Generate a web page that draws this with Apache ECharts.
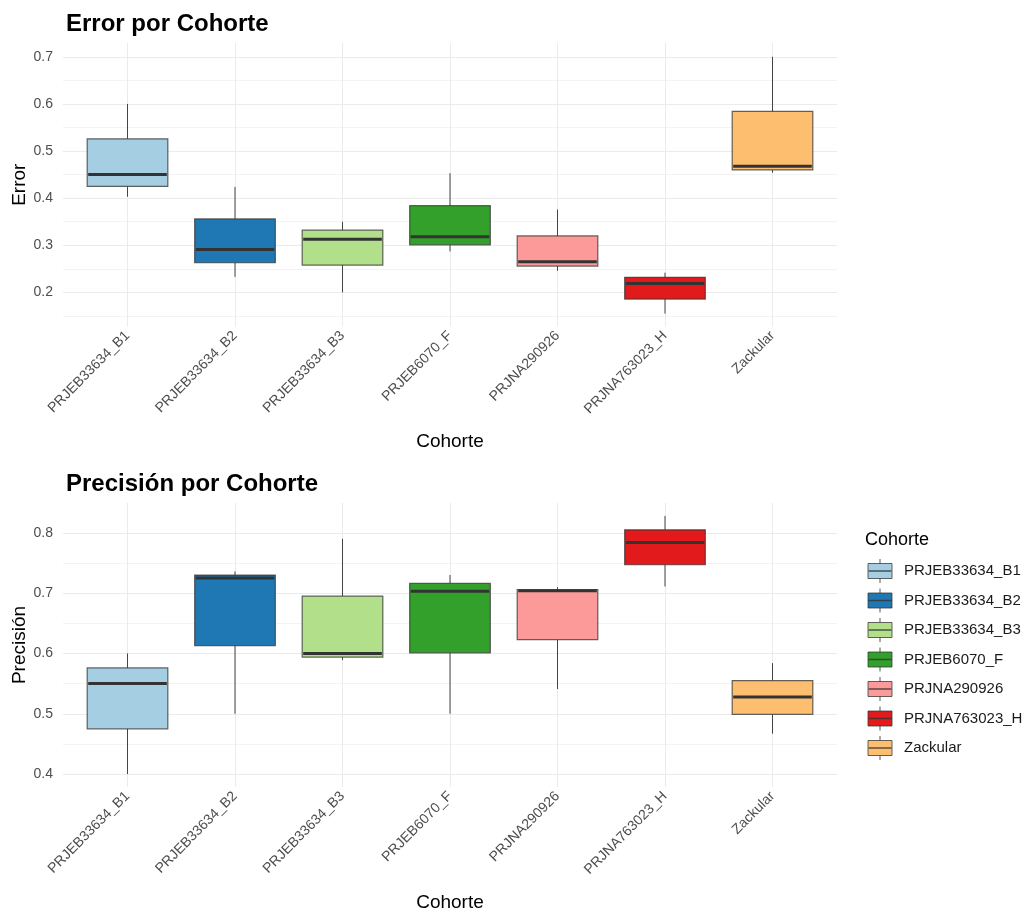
<!DOCTYPE html>
<html>
<head>
<meta charset="utf-8">
<title>Error y Precisión por Cohorte</title>
<script src="https://cdn.jsdelivr.net/npm/echarts@6/dist/echarts.min.js"></script>
<style>
  html, body { margin: 0; padding: 0; background: #ffffff; }
  #chart { width: 1027px; height: 914px; }
</style>
</head>
<body>
<div id="chart"></div>
<script>
// Cohorts shown on the x axis and in the legend
const categories = ['PRJEB33634_B1', 'PRJEB33634_B2', 'PRJEB33634_B3', 'PRJEB6070_F', 'PRJNA290926', 'PRJNA763023_H', 'Zackular'];
const cohortColors = ['#A6CEE3', '#1F78B4', '#B2DF8A', '#33A02C', '#FB9A99', '#E31A1C', '#FDBF6F'];

// Box statistics per cohort: [lower whisker, Q1, median, Q3, upper whisker]
const errorBoxes = [
  [0.403, 0.425, 0.450, 0.526, 0.600],
  [0.233, 0.263, 0.291, 0.356, 0.424],
  [0.200, 0.258, 0.313, 0.332, 0.350],
  [0.287, 0.301, 0.318, 0.384, 0.453],
  [0.246, 0.256, 0.265, 0.320, 0.376],
  [0.155, 0.186, 0.219, 0.232, 0.242],
  [0.454, 0.460, 0.468, 0.584, 0.700]
];
const precisionBoxes = [
  [0.400, 0.475, 0.550, 0.576, 0.600],
  [0.500, 0.613, 0.725, 0.730, 0.736],
  [0.589, 0.594, 0.600, 0.695, 0.790],
  [0.500, 0.601, 0.703, 0.716, 0.730],
  [0.541, 0.623, 0.704, 0.706, 0.710],
  [0.711, 0.747, 0.784, 0.805, 0.828],
  [0.467, 0.499, 0.528, 0.555, 0.584]
];

// Tick positions
const xTickValues = [1, 2, 3, 4, 5, 6, 7];
const errorLabelTicks = [0.2, 0.3, 0.4, 0.5, 0.6, 0.7];
const errorGridTicks = [0.15, 0.2, 0.25, 0.3, 0.35, 0.4, 0.45, 0.5, 0.55, 0.6, 0.65, 0.7];
const precisionLabelTicks = [0.4, 0.5, 0.6, 0.7, 0.8];
const precisionGridTicks = [0.4, 0.45, 0.5, 0.55, 0.6, 0.65, 0.7, 0.75, 0.8];

const FONT = '"Liberation Sans", Arial, sans-serif';
const MAJOR = '#ebebeb';
const MINOR = '#f3f3f3';

function boxRows(boxes) {
  return boxes.map((b, i) => [xTickValues[i]].concat(b));
}

// ggplot-style box: whiskers without caps, filled box, thick median bar
function renderBox(params, api) {
  const x = api.value(0);
  const lo = api.coord([x, api.value(1)]);
  const q1 = api.coord([x, api.value(2)]);
  const med = api.coord([x, api.value(3)]);
  const q3 = api.coord([x, api.value(4)]);
  const hi = api.coord([x, api.value(5)]);
  const bw = api.size([1, 0])[0] * 0.75;
  const cx = lo[0];
  const fill = cohortColors[params.dataIndex];
  return {
    type: 'group',
    children: [
      { type: 'line', shape: { x1: cx, y1: hi[1], x2: cx, y2: q3[1] }, style: { stroke: '#444', lineWidth: 1 } },
      { type: 'line', shape: { x1: cx, y1: q1[1], x2: cx, y2: lo[1] }, style: { stroke: '#444', lineWidth: 1 } },
      { type: 'rect', shape: { x: cx - bw / 2, y: q3[1], width: bw, height: q1[1] - q3[1] },
        style: { fill: fill, stroke: 'rgba(51,51,51,0.75)', lineWidth: 1.2 } },
      { type: 'line', shape: { x1: cx - bw / 2 + 1, y1: med[1], x2: cx + bw / 2 - 1, y2: med[1] },
        style: { stroke: '#333333', lineWidth: 3 } }
    ]
  };
}

function xAxisFor(gridIndex) {
  return {
    type: 'value', gridIndex: gridIndex, min: 0.4, max: 7.6,
    name: 'Cohorte', nameLocation: 'middle', nameGap: 106, nameMoveOverlap: false,
    nameTextStyle: { fontFamily: FONT, fontSize: 19, color: '#000' },
    axisLine: { show: false },
    axisTick: { show: false, customValues: xTickValues },
    axisLabel: {
      customValues: xTickValues, rotate: 45, margin: 7,
      fontFamily: FONT, fontSize: 14, color: '#4d4d4d',
      formatter: v => categories[Math.round(v) - 1]
    },
    splitLine: { show: true, lineStyle: { color: MAJOR, width: 1 } }
  };
}

function yAxisFor(gridIndex, name, min, max, labelTicks, gridTicks, colors) {
  return {
    type: 'value', gridIndex: gridIndex, min: min, max: max,
    name: name, nameLocation: 'middle', nameGap: 34, nameMoveOverlap: false,
    nameTextStyle: { fontFamily: FONT, fontSize: 19, color: '#000' },
    axisLine: { show: false },
    axisTick: { show: false, customValues: gridTicks },
    axisLabel: {
      customValues: labelTicks, margin: 10,
      fontFamily: FONT, fontSize: 14, color: '#4d4d4d',
      formatter: v => v.toFixed(1)
    },
    splitLine: { show: true, lineStyle: { color: colors, width: 1 } }
  };
}

// Legend drawn as box keys with labels
const legendTop = 571;
const legendStep = 29.5;
const legendGraphics = [
  { type: 'text', left: 865, top: 531,
    style: { text: 'Cohorte', fontFamily: FONT, fontSize: 18, fill: '#000' } }
];
categories.forEach((name, i) => {
  const cy = legendTop + i * legendStep;
  legendGraphics.push(
    { type: 'line', shape: { x1: 880, y1: cy - 12, x2: 880, y2: cy + 12 }, style: { stroke: '#555', lineWidth: 1 } },
    { type: 'rect', shape: { x: 868, y: cy - 7.5, width: 24, height: 15 },
      style: { fill: cohortColors[i], stroke: 'rgba(51,51,51,0.75)', lineWidth: 1 } },
    { type: 'line', shape: { x1: 868.5, y1: cy, x2: 891.5, y2: cy }, style: { stroke: 'rgba(51,51,51,0.8)', lineWidth: 1.5 } },
    { type: 'text', x: 904, y: cy,
      style: { text: name, fontFamily: FONT, fontSize: 15, fill: '#1a1a1a', textVerticalAlign: 'middle' } }
  );
});

const chart = echarts.init(document.getElementById('chart'), null, { renderer: 'canvas' });
chart.setOption({
  animation: false,
  backgroundColor: '#ffffff',
  title: [
    { text: 'Error por Cohorte', left: 61, top: 7,
      textStyle: { fontFamily: FONT, fontSize: 24, fontWeight: 'bold', color: '#000' } },
    { text: 'Precisión por Cohorte', left: 61, top: 467,
      textStyle: { fontFamily: FONT, fontSize: 24, fontWeight: 'bold', color: '#000' } }
  ],
  grid: [
    { left: 63, top: 43, width: 774, height: 283.5, outerBoundsMode: 'none', containLabel: false },
    { left: 63, top: 503, width: 774, height: 284, outerBoundsMode: 'none', containLabel: false }
  ],
  xAxis: [xAxisFor(0), xAxisFor(1)],
  yAxis: [
    yAxisFor(0, 'Error', 0.1277, 0.7293, errorLabelTicks, errorGridTicks, [MINOR, MAJOR]),
    yAxisFor(1, 'Precisión', 0.3786, 0.8494, precisionLabelTicks, precisionGridTicks, [MAJOR, MINOR])
  ],
  series: [
    { type: 'custom', name: 'Error', xAxisIndex: 0, yAxisIndex: 0,
      renderItem: renderBox, data: boxRows(errorBoxes),
      encode: { x: 0, y: [1, 2, 3, 4, 5] } },
    { type: 'custom', name: 'Precisión', xAxisIndex: 1, yAxisIndex: 1,
      renderItem: renderBox, data: boxRows(precisionBoxes),
      encode: { x: 0, y: [1, 2, 3, 4, 5] } }
  ],
  graphic: legendGraphics
});
</script>
</body>
</html>
